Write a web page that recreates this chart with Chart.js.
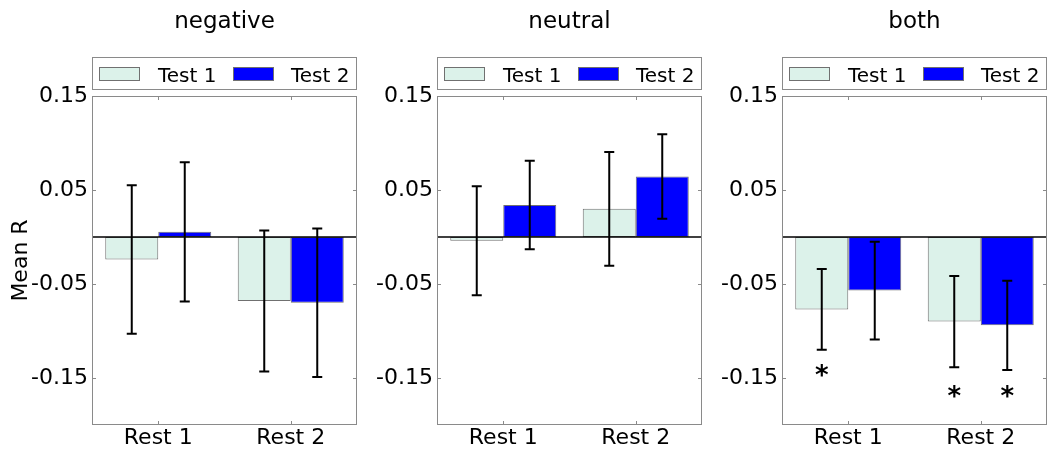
<!DOCTYPE html>
<html>
<head>
<meta charset="utf-8">
<script src="https://cdn.jsdelivr.net/npm/chart.js@4.4.1/dist/chart.umd.min.js"></script>
<style>
html,body{margin:0;padding:0;background:#fff;}
#wrap{position:relative;width:1048px;height:450px;overflow:hidden;}
canvas{position:absolute;top:0;}
</style>
</head>
<body>
<div id="wrap">
  <canvas id="c0" width="363" height="450" style="left:0px"></canvas>
  <canvas id="c1" width="363" height="450" style="left:345px"></canvas>
  <canvas id="c2" width="358" height="450" style="left:690px"></canvas>
</div>
<script>
// ---- data ----
const categories = ["Rest 1", "Rest 2"];
const seriesNames = ["Test 1", "Test 2"];
const panelTitles = ["negative", "neutral", "both"];
const yTicks = [-0.15, -0.05, 0.05, 0.15];
const yMin = -0.2, yMax = 0.15;

const negTest1 = [-0.024, -0.068];
const negTest1Err = [0.079, 0.075];
const negTest2 = [0.0055, -0.070];
const negTest2Err = [0.074, 0.079];

const neuTest1 = [-0.004, 0.030];
const neuTest1Err = [0.058, 0.0605];
const neuTest2 = [0.034, 0.0644];
const neuTest2Err = [0.047, 0.045];

const bothTest1 = [-0.077, -0.090];
const bothTest1Err = [0.043, 0.0486];
const bothTest2 = [-0.057, -0.094];
const bothTest2Err = [0.052, 0.0474];
// significance marks (y position of the "*")
const bothStars1 = [-0.1425, -0.165];
const bothStars2 = [null, -0.165];

const FONT = "'DejaVu Sans', sans-serif";
const fillCols = ["#dcf2ea", "#0000ff"];
const edgeCol = "#707070";
const frameCol = "#8a8a8a";

function makePanel(id, title, t1, t1e, t2, t2e, s1, s2, yTitle, padRight){
  const errs = [t1e, t2e], stars = [s1, s2];
  const deco = {
    id: "deco" + id,
    afterDatasetsDraw(chart){
      const ctx = chart.ctx, a = chart.chartArea, y = chart.scales.y, x = chart.scales.x;
      ctx.save();
      // zero line
      ctx.strokeStyle = "#000"; ctx.lineWidth = 1.5;
      const y0 = y.getPixelForValue(0);
      ctx.beginPath(); ctx.moveTo(a.left, y0); ctx.lineTo(a.right, y0); ctx.stroke();
      // error bars
      ctx.lineWidth = 2;
      chart.data.datasets.forEach((ds, d) => {
        const meta = chart.getDatasetMeta(d);
        ds.data.forEach((v, i) => {
          const px = meta.data[i].x;
          const top = y.getPixelForValue(v + errs[d][i]);
          const bot = y.getPixelForValue(v - errs[d][i]);
          ctx.beginPath();
          ctx.moveTo(px, top); ctx.lineTo(px, bot);
          ctx.moveTo(px - 5, top); ctx.lineTo(px + 5, top);
          ctx.moveTo(px - 5, bot); ctx.lineTo(px + 5, bot);
          ctx.stroke();
          const s = stars[d] && stars[d][i];
          if (s != null) {
            ctx.fillStyle = "#000";
            ctx.font = "bold 26px " + FONT;
            ctx.textAlign = "center"; ctx.textBaseline = "alphabetic";
            ctx.fillText("*", px, y.getPixelForValue(s) + 13);
          }
        });
      });
      // frame
      ctx.strokeStyle = frameCol; ctx.lineWidth = 1;
      ctx.strokeRect(a.left + 0.5, a.top + 0.5, a.right - a.left - 1, a.bottom - a.top - 1);
      // inward tick marks
      ctx.beginPath();
      yTicks.forEach(v => {
        const py = Math.round(y.getPixelForValue(v)) + 0.5;
        ctx.moveTo(a.left, py); ctx.lineTo(a.left + 4, py);
        ctx.moveTo(a.right, py); ctx.lineTo(a.right - 4, py);
      });
      categories.forEach((c, i) => {
        const px = Math.round(x.getPixelForValue(i)) + 0.5;
        ctx.moveTo(px, a.top); ctx.lineTo(px, a.top + 4);
        ctx.moveTo(px, a.bottom); ctx.lineTo(px, a.bottom - 4);
      });
      ctx.stroke();
      // title
      ctx.fillStyle = "#000";
      ctx.font = "23px " + FONT;
      ctx.textAlign = "center"; ctx.textBaseline = "alphabetic";
      ctx.fillText(title, (a.left + a.right) / 2, 27.5);
      // legend box
      ctx.strokeStyle = frameCol; ctx.lineWidth = 1;
      ctx.strokeRect(a.left + 0.5, 57.5, a.right - a.left - 1, 32);
      const sw = [7, 141], tx = [66, 199];
      chart.data.datasets.forEach((ds, d) => {
        ctx.fillStyle = ds.backgroundColor;
        ctx.fillRect(a.left + sw[d], 67, 41, 14);
        ctx.strokeStyle = edgeCol;
        ctx.strokeRect(a.left + sw[d] + 0.5, 67.5, 40, 13);
        ctx.fillStyle = "#000";
        ctx.font = "20px " + FONT;
        ctx.textAlign = "left";
        ctx.fillText(ds.label, a.left + tx[d], 81.5);
      });
      ctx.restore();
    }
  };
  return new Chart(document.getElementById(id), {
    type: "bar",
    data: {
      labels: categories,
      datasets: [
        {label: seriesNames[0], data: t1, backgroundColor: fillCols[0], borderColor: edgeCol, borderWidth: 1, borderSkipped: false},
        {label: seriesNames[1], data: t2, backgroundColor: fillCols[1], borderColor: edgeCol, borderWidth: 1, borderSkipped: false}
      ]
    },
    options: {
      responsive: false,
      animation: false,
      categoryPercentage: 0.8,
      barPercentage: 1.0,
      layout: {padding: {top: 96, right: padRight, bottom: 0, left: 0}},
      plugins: {legend: {display: false}, title: {display: false}, tooltip: {enabled: false}},
      scales: {
        x: {
          type: "category", offset: true,
          grid: {display: false, drawTicks: false}, border: {display: false},
          ticks: {color: "#000", font: {family: FONT, size: 22}, padding: 0},
          afterFit(s){ s.height = 25; }
        },
        y: {
          min: yMin, max: yMax,
          grid: {display: false, drawTicks: false}, border: {display: false},
          ticks: {color: "#000", font: {family: FONT, size: 22}, padding: 4,
                  callback: v => v.toFixed(2)},
          afterBuildTicks(s){ s.ticks = yTicks.map(v => ({value: v})); },
          title: {display: yTitle, text: "Mean R", color: "#000", font: {family: FONT, size: 22}, padding: {top: 8, bottom: 0}},
          afterFit(s){ s.width = 92; }
        }
      }
    },
    plugins: [deco]
  });
}

makePanel("c0", panelTitles[0], negTest1, negTest1Err, negTest2, negTest2Err, null, null, true, 6);
makePanel("c1", panelTitles[1], neuTest1, neuTest1Err, neuTest2, neuTest2Err, null, null, false, 6);
makePanel("c2", panelTitles[2], bothTest1, bothTest1Err, bothTest2, bothTest2Err, bothStars1, bothStars2, false, 1);
</script>
</body>
</html>
